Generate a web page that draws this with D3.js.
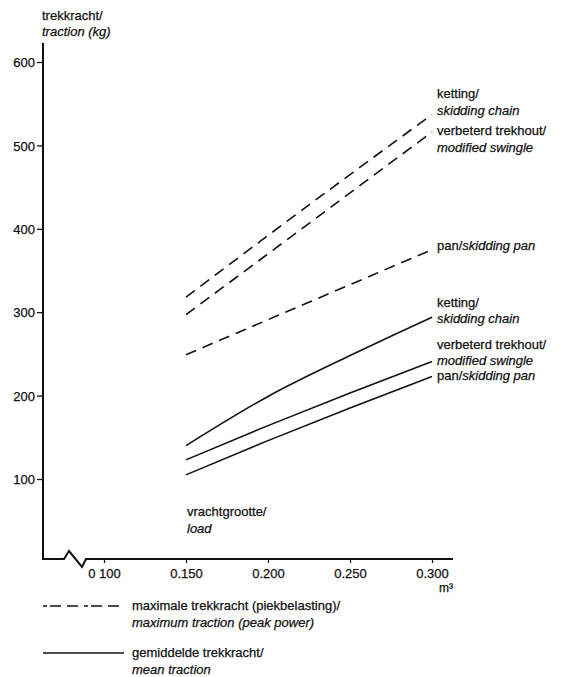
<!DOCTYPE html>
<html>
<head>
<meta charset="utf-8">
<script src="https://cdn.jsdelivr.net/npm/d3@7"></script>
<style>
  html, body { margin: 0; padding: 0; background: #fff; }
  svg text { font-family: "Liberation Sans", Arial, sans-serif; fill: #111; stroke: #111; stroke-width: 0.25px; }
</style>
</head>
<body>
<svg id="chart" width="580" height="677"></svg>
<script>
// ---------------- data ----------------
const loads = [0.150, 0.200, 0.250, 0.300];               // m3
const maxKetting    = [318, 392, 465, 537];               // kg, peak traction, skidding chain
const maxVerbeterd  = [297, 370, 443, 516];               // kg, peak traction, modified swingle
const maxPan        = [249, 291, 333, 375];               // kg, peak traction, skidding pan
const meanKetting   = [140, 199, 248, 294];               // kg, mean traction, skidding chain
const meanVerbeterd = [123, 164, 203, 241];               // kg, mean traction, modified swingle
const meanPan       = [105, 146, 185, 223];               // kg, mean traction, skidding pan

const xTickValues = [0.100, 0.150, 0.200, 0.250, 0.300];
const xTickLabels = ["0 100", "0.150", "0.200", "0.250", "0.300"];
const yTickValues = [100, 200, 300, 400, 500, 600];

const yTitle = ["trekkracht/", "traction (kg)"];
const xTitle = ["vrachtgrootte/", "load"];
const xUnit = "m³";

const seriesLabels = {
  ketting:   [[["ketting/", false]], [["skidding chain", true]]],
  verbeterd: [[["verbeterd trekhout/", false]], [["modified swingle", true]]],
  pan:       [[["pan/", false], ["skidding pan", true]]]
};
const legendLabels = [
  ["maximale trekkracht (piekbelasting)/", "maximum traction (peak power)"],
  ["gemiddelde trekkracht/", "mean traction"]
];

// ---------------- layout ----------------
const svg = d3.select("#chart");
const FS = 13;
const axisX = 43, axisY = 559;
const x = d3.scaleLinear().domain([0.100, 0.300]).range([104, 432]);
const y = d3.scaleLinear().domain([100, 600]).range([479, 62]);

// y axis
const yAxis = d3.axisLeft(y).tickValues(yTickValues).tickSize(6).tickPadding(2).tickFormat(d3.format("d"));
const gy = svg.append("g").attr("transform", `translate(${axisX},0)`).call(yAxis);
gy.select(".domain").remove();
gy.selectAll(".tick line").attr("stroke", "#111").attr("stroke-width", 1.3);
gy.selectAll(".tick text").attr("font-size", FS).attr("font-family", "Liberation Sans, Arial, sans-serif").attr("fill", "#111").attr("dy", "0.36em");

// x axis ticks
const xAxis = d3.axisBottom(x).tickValues(xTickValues).tickSize(4).tickPadding(6)
  .tickFormat((d, i) => xTickLabels[i]);
const gx = svg.append("g").attr("transform", `translate(0,${axisY})`).call(xAxis);
gx.select(".domain").remove();
gx.selectAll(".tick line").attr("stroke", "#111").attr("stroke-width", 1.2);
gx.selectAll(".tick text").attr("font-size", FS).attr("font-family", "Liberation Sans, Arial, sans-serif").attr("fill", "#111");

// axis lines (with break)
const axisPath = d3.path();
axisPath.moveTo(axisX, 43);
axisPath.lineTo(axisX, axisY);
axisPath.lineTo(64, axisY);
axisPath.lineTo(69, axisY - 8);
axisPath.lineTo(82, axisY + 8);
axisPath.lineTo(86, axisY);
axisPath.lineTo(453, axisY);
svg.append("path").attr("d", axisPath.toString()).attr("fill", "none")
  .attr("stroke", "#111").attr("stroke-width", 2).attr("stroke-linejoin", "miter");

// axis titles
const yt = svg.append("text").attr("x", 42).attr("y", 20).attr("font-size", FS);
yt.append("tspan").attr("x", 42).attr("y", 20).text(yTitle[0]);
yt.append("tspan").attr("x", 42).attr("y", 36).attr("font-style", "italic").text(yTitle[1]);

const xt = svg.append("text").attr("font-size", FS);
xt.append("tspan").attr("x", 187).attr("y", 516).text(xTitle[0]);
xt.append("tspan").attr("x", 187).attr("y", 533).attr("font-style", "italic").text(xTitle[1]);

svg.append("text").attr("x", 453).attr("y", 592).attr("text-anchor", "end")
  .attr("font-size", FS - 1).text(xUnit);

// ---------------- series ----------------
const line = d3.line().x((d, i) => x(loads[i])).y(d => y(d)).curve(d3.curveMonotoneX);
const dash = "11,7";
const series = [
  { v: maxKetting,    dashed: true,  label: "ketting",   line2: true,  dy: 0 },
  { v: maxVerbeterd,  dashed: true,  label: "verbeterd", line2: false, dy: 3 },
  { v: maxPan,        dashed: true,  label: "pan",       line2: false, dy: 0 },
  { v: meanKetting,   dashed: false, label: "ketting",   line2: true,  dy: 6 },
  { v: meanVerbeterd, dashed: false, label: "verbeterd", line2: true,  dy: 4 },
  { v: meanPan,       dashed: false, label: "pan",       line2: false, dy: 4 }
];

series.forEach(s => {
  svg.append("path").attr("d", line(s.v)).attr("fill", "none")
    .attr("stroke", "#111").attr("stroke-width", 1.6)
    .attr("stroke-dasharray", s.dashed ? dash : null);

  const yEnd = y(s.v[s.v.length - 1]);
  const lines = seriesLabels[s.label];
  const anchorIdx = s.line2 ? 1 : 0;
  const lx = 437;
  const t = svg.append("text").attr("font-size", FS);
  lines.forEach((segs, li) => {
    const by = yEnd + s.dy + (li - anchorIdx) * 16.5;
    segs.forEach((seg, si) => {
      const ts = t.append("tspan").text(seg[0]).attr("font-style", seg[1] ? "italic" : "normal");
      if (si === 0) ts.attr("x", lx).attr("y", by);
    });
  });
});

// ---------------- legend ----------------
const lg = svg.append("g");
lg.append("line").attr("x1", 43).attr("x2", 124).attr("y1", 606).attr("y2", 606)
  .attr("stroke", "#111").attr("stroke-width", 1.6).attr("stroke-dasharray", "4,3,11,6,11,6");
lg.append("line").attr("x1", 43).attr("x2", 124).attr("y1", 653).attr("y2", 653)
  .attr("stroke", "#111").attr("stroke-width", 1.6);
legendLabels.forEach((lab, i) => {
  const by = i === 0 ? 610 : 657;
  const t = lg.append("text").attr("font-size", FS);
  t.append("tspan").attr("x", 132).attr("y", by).text(lab[0]);
  t.append("tspan").attr("x", 132).attr("y", by + 17).attr("font-style", "italic").text(lab[1]);
});
</script>
</body>
</html>
